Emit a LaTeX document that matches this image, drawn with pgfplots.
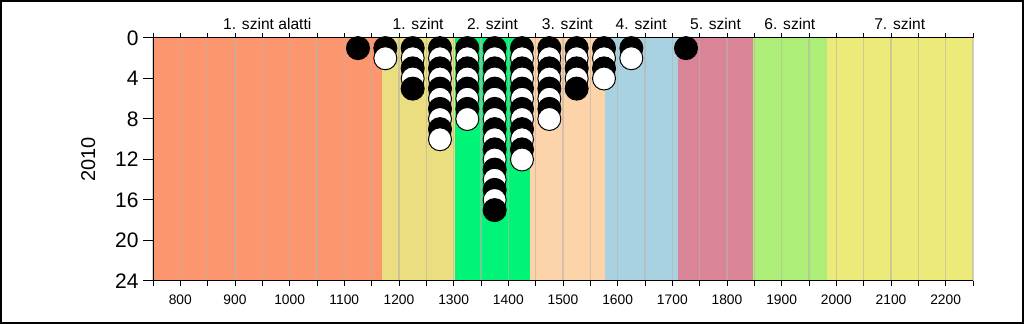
\documentclass[border=0pt]{standalone}
\usepackage{pgfplots}
\pgfplotsset{compat=1.18}
\usepackage{fontspec}
\setmainfont{Liberation Sans}
\definecolor{c0}{RGB}{252,150,110}
\definecolor{c1}{RGB}{234,222,128}
\definecolor{c2}{RGB}{0,245,120}
\definecolor{c3}{RGB}{253,212,170}
\definecolor{c4}{RGB}{168,210,226}
\definecolor{c5}{RGB}{218,132,152}
\definecolor{c6}{RGB}{172,238,120}
\definecolor{c7}{RGB}{236,234,120}
\definecolor{gridc}{RGB}{185,180,170}
\begin{document}
\begin{tikzpicture}
\draw[line width=1.2pt] (0.6pt,0.6pt) rectangle (511.4pt,161.4pt);
\begin{axis}[
  at={(76.5pt,21.5pt)}, anchor=south west,
  width=410pt, height=121.5pt, scale only axis,
  set layers,
  clip=false,
  xmin=750, xmax=2250, ymin=0, ymax=24,
  y dir=reverse,
  axis x line*=box, axis y line*=left,
  axis line style={-, black, line width=0.5pt},
  xtick={750,800,...,2250},
  xticklabels={,800,,900,,1000,,1100,,1200,,1300,,1400,,1500,,1600,,1700,,1800,,1900,,2000,,2100,,2200,},
  xtick pos=both, xticklabel pos=lower,
  ytick={0,4,...,24}, ytick pos=left,
  tick align=outside,
  major tick length=5pt,
  xtick style={/pgfplots/major tick length=2.5pt, black, line width=0.5pt},
  ytick style={black, line width=0.5pt},
  xmajorgrids,
  grid style={draw=gridc, draw opacity=0.6, line width=0.8pt},
  /pgf/number format/assume math mode=true,
  xticklabel style={font=\fontsize{6.9}{8}\selectfont, inner sep=1.5pt},
  yticklabel style={font=\fontsize{10.5}{12}\selectfont, inner sep=2pt},
  ylabel={2010},
  ylabel style={font=\fontsize{8.3}{9}\selectfont},
  every axis y label/.style={at={(axis description cs:-0.079,0.5)}, rotate=90, anchor=center},
]
\addplot[fill=c0, draw=none, on layer=axis background, forget plot] coordinates {(750,0) (1168,0) (1168,24) (750,24)};
\addplot[fill=c1, draw=none, on layer=axis background, forget plot] coordinates {(1168,0) (1303,0) (1303,24) (1168,24)};
\addplot[fill=c2, draw=none, on layer=axis background, forget plot] coordinates {(1303,0) (1440,0) (1440,24) (1303,24)};
\addplot[fill=c3, draw=none, on layer=axis background, forget plot] coordinates {(1440,0) (1576,0) (1576,24) (1440,24)};
\addplot[fill=c4, draw=none, on layer=axis background, forget plot] coordinates {(1576,0) (1711,0) (1711,24) (1576,24)};
\addplot[fill=c5, draw=none, on layer=axis background, forget plot] coordinates {(1711,0) (1848,0) (1848,24) (1711,24)};
\addplot[fill=c6, draw=none, on layer=axis background, forget plot] coordinates {(1848,0) (1983,0) (1983,24) (1848,24)};
\addplot[fill=c7, draw=none, on layer=axis background, forget plot] coordinates {(1983,0) (2250,0) (2250,24) (1983,24)};

\addplot[only marks, scatter, mark=*, mark size=5.75pt,
  point meta=explicit symbolic,
  scatter/classes={
    b={mark=*, fill=black, draw=black, line width=0.5pt},
    w={mark=*, fill=white, draw=black, line width=0.5pt}}]
 table[meta=c] {
x y c
1125 1 b
1175 1 b
1225 1 b
1275 1 b
1325 1 b
1375 1 b
1425 1 b
1475 1 b
1525 1 b
1575 1 b
1625 1 b
1725 1 b
1175 2 w
1225 2 w
1275 2 w
1325 2 w
1375 2 w
1425 2 w
1475 2 w
1525 2 w
1575 2 w
1625 2 w
1225 3 b
1275 3 b
1325 3 b
1375 3 b
1425 3 b
1475 3 b
1525 3 b
1575 3 b
1225 4 w
1275 4 w
1325 4 w
1375 4 w
1425 4 w
1475 4 w
1525 4 w
1575 4 w
1225 5 b
1275 5 b
1325 5 b
1375 5 b
1425 5 b
1475 5 b
1525 5 b
1275 6 w
1325 6 w
1375 6 w
1425 6 w
1475 6 w
1275 7 b
1325 7 b
1375 7 b
1425 7 b
1475 7 b
1275 8 w
1325 8 w
1375 8 w
1425 8 w
1475 8 w
1275 9 b
1375 9 b
1425 9 b
1275 10 w
1375 10 w
1425 10 w
1375 11 b
1425 11 b
1375 12 w
1425 12 w
1375 13 b
1375 14 w
1375 15 b
1375 16 w
1375 17 b
};

\begin{scope}[font=\fontsize{7.8}{9}\selectfont]
\node[anchor=base] at ([yshift=4pt]axis cs:959,0) {1. szint alatti};
\node[anchor=base] at ([yshift=4pt]axis cs:1235,0) {1. szint};
\node[anchor=base] at ([yshift=4pt]axis cs:1371,0) {2. szint};
\node[anchor=base] at ([yshift=4pt]axis cs:1508,0) {3. szint};
\node[anchor=base] at ([yshift=4pt]axis cs:1643,0) {4. szint};
\node[anchor=base] at ([yshift=4pt]axis cs:1779,0) {5. szint};
\node[anchor=base] at ([yshift=4pt]axis cs:1915,0) {6. szint};
\node[anchor=base] at ([yshift=4pt]axis cs:2116,0) {7. szint};
\end{scope}
\end{axis}
\end{tikzpicture}
\end{document}
